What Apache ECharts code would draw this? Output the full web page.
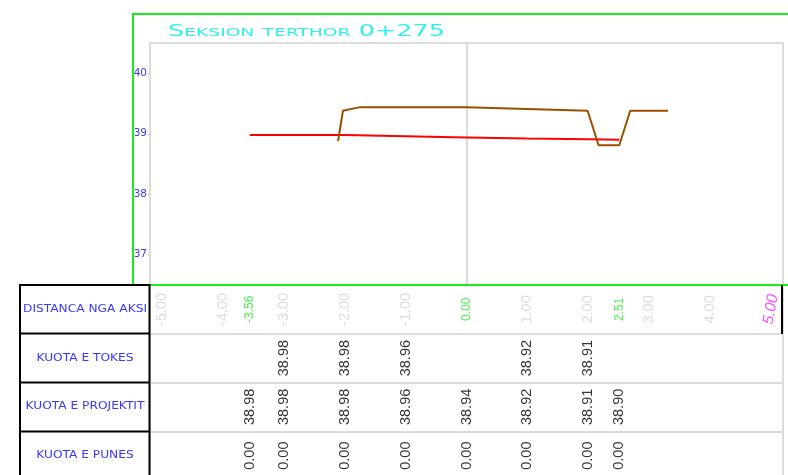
<!DOCTYPE html>
<html>
<head>
<meta charset="utf-8">
<script src="https://cdn.jsdelivr.net/npm/echarts@6/dist/echarts.min.js"></script>
<style>
  html, body { margin: 0; padding: 0; background: #fff; }
  #main { width: 788px; height: 475px; }
</style>
</head>
<body>
<div id="main"></div>
<script>
// profili i tokes (terreni) - lexuar nga vizatimi
var groundDist = [-2.11, -2.03, -1.75, 0.00, 1.99, 2.17, 2.51, 2.69, 3.31];
var groundKuota = [38.88, 39.38, 39.44, 39.44, 39.38, 38.81, 38.81, 39.38, 39.38];

// profili i projektit
var projDist = [-3.56, -3.00, -2.00, -1.00, 0.00, 1.00, 2.00, 2.51];
var projKuota = [38.98, 38.98, 38.98, 38.96, 38.94, 38.92, 38.91, 38.90];

// tabela
var rowNames = ['DISTANCA NGA AKSI', 'KUOTA E TOKES', 'KUOTA E PROJEKTIT', 'KUOTA E PUNES'];
var distTicks = [-5, -4, -3, -2, -1, 1, 2, 3, 4];
var keyDist = [-3.56, 0.00, 2.51];
var endDist = [5.00];
var tokesDist = [-3.00, -2.00, -1.00, 1.00, 2.00];
var tokesKuota = [38.98, 38.98, 38.96, 38.92, 38.91];
var punesKuota = [0.00, 0.00, 0.00, 0.00, 0.00, 0.00, 0.00, 0.00];
var elevTicks = [37, 38, 39, 40];

var titleText = 'Seksion terthor 0+275';

var myChart = echarts.init(document.getElementById('main'));

var GREEN = '#1aeb1a';
var BLUE = '#3838ff';
var TABLE_TOP = 285, ROW_H = 48.75;

function pairs(xs, ys) {
  return xs.map(function (x, i) { return [x, ys[i]]; });
}

// seri me vetem etiketa (te rrotulluara) ne rreshtin e tabeles
function labelSeries(name, dists, texts, row, style) {
  return {
    name: name,
    type: 'scatter',
    xAxisIndex: 1,
    yAxisIndex: 1,
    symbolSize: 1,
    silent: true,
    itemStyle: { color: 'rgba(0,0,0,0)' },
    data: dists.map(function (d) { return [d, row]; }),
    label: Object.assign({
      show: true,
      position: 'inside',
      rotate: 90,
      fontFamily: 'Liberation Sans',
      fontSize: 14.5,
      color: '#000',
      formatter: function (p) { return texts[p.dataIndex]; }
    }, style || {})
  };
}

function fmt(arr) { return arr.map(function (v) { return v.toFixed(2); }); }

// emrat e rreshtave, te zgjeruar horizontalisht si shkronja CAD
var rowLabelGraphics = rowNames.map(function (t, i) {
  return {
    type: 'text', z: 90,
    x: 85, y: TABLE_TOP + ROW_H * (i + 0.5),
    scaleX: 1.22,
    style: {
      text: t, fill: BLUE, align: 'center', verticalAlign: 'middle',
      font: 'normal 10px "DejaVu Sans"'
    }
  };
});

var option = {
  backgroundColor: '#ffffff',
  animation: false,
  grid: [
    { left: 150, top: 43, width: 633, height: 242, show: true, borderColor: '#dcdcdc', borderWidth: 2, outerBoundsMode: 'none' },
    { left: 150, top: TABLE_TOP, width: 633, height: ROW_H * 4, show: true, borderColor: '#dcdcdc', borderWidth: 2, outerBoundsMode: 'none' }
  ],
  xAxis: [
    { gridIndex: 0, type: 'value', min: -5.2, max: 5.2, show: false },
    { gridIndex: 1, type: 'value', min: -5.2, max: 5.2, show: false }
  ],
  yAxis: [
    {
      gridIndex: 0, type: 'value', min: 36.5, max: 40.5,
      axisLine: { show: false, onZero: false },
      splitLine: { show: false },
      axisTick: { show: true, length: 2, customValues: elevTicks, lineStyle: { color: '#cccccc' } },
      axisLabel: {
        customValues: elevTicks,
        margin: 3,
        color: BLUE,
        fontFamily: 'DejaVu Sans',
        fontSize: 10.5
      }
    },
    {
      gridIndex: 1, type: 'category', inverse: true, data: rowNames,
      axisLine: { show: false, onZero: false },
      axisTick: { show: false },
      axisLabel: { show: false },
      splitLine: { show: true, lineStyle: { color: '#dcdcdc', width: 2 } }
    }
  ],
  series: [
    {
      name: 'Toka',
      type: 'line',
      xAxisIndex: 0, yAxisIndex: 0,
      data: pairs(groundDist, groundKuota),
      symbol: 'none',
      lineStyle: { color: '#9a4f00', width: 2 },
      z: 3,
      markLine: {
        silent: true,
        symbol: 'none',
        label: { show: false },
        lineStyle: { color: '#dcdcdc', width: 2, type: 'solid' },
        data: [{ xAxis: 0 }],
        z: 1
      }
    },
    {
      name: 'Projekti',
      type: 'line',
      xAxisIndex: 0, yAxisIndex: 0,
      data: pairs(projDist, projKuota),
      symbol: 'none',
      lineStyle: { color: '#ff0000', width: 2 },
      z: 2
    },
    labelSeries('distanca', distTicks, fmt(distTicks), 0, { color: '#d2d2d2' }),
    labelSeries('pikat', keyDist, fmt(keyDist), 0, { color: '#22ee22', fontSize: 12 }),
    labelSeries('fundi', endDist, fmt(endDist), 0, { color: '#ff22ff', fontStyle: 'italic', fontSize: 15.5, rotate: 80 }),
    labelSeries('tokes', tokesDist, fmt(tokesKuota), 1),
    labelSeries('projektit', projDist, fmt(projKuota), 2),
    labelSeries('punes', projDist, fmt(punesKuota), 3)
  ],
  graphic: [
    // titulli, zgjeruar horizontalisht
    {
      type: 'text', z: 90, x: 168, y: 32, scaleX: 1.7,
      style: {
        text: titleText, fill: '#2ef0f0', align: 'left', verticalAlign: 'middle',
        font: 'small-caps normal 15px "DejaVu Sans"'
      }
    },
    // kuadri jeshil
    { type: 'line', z: 100, shape: { x1: 133, y1: 14, x2: 133, y2: 285 }, style: { stroke: GREEN, lineWidth: 2 } },
    { type: 'line', z: 100, shape: { x1: 132, y1: 14, x2: 788, y2: 14 }, style: { stroke: GREEN, lineWidth: 2 } },
    { type: 'line', z: 100, shape: { x1: 150, y1: 285, x2: 788, y2: 285 }, style: { stroke: GREEN, lineWidth: 2 } },
    // kutia e emrave te rreshtave
    { type: 'rect', z: 100, shape: { x: 20, y: 285, width: 129.5, height: 200 }, style: { fill: null, stroke: '#000', lineWidth: 2 } },
    { type: 'line', z: 100, shape: { x1: 20, y1: 333.5, x2: 150, y2: 333.5 }, style: { stroke: '#000', lineWidth: 2 } },
    { type: 'line', z: 100, shape: { x1: 20, y1: 382.5, x2: 150, y2: 382.5 }, style: { stroke: '#000', lineWidth: 2 } },
    { type: 'line', z: 100, shape: { x1: 20, y1: 431.5, x2: 150, y2: 431.5 }, style: { stroke: '#000', lineWidth: 2 } },
    { type: 'line', z: 100, shape: { x1: 782, y1: 285, x2: 782, y2: 334 }, style: { stroke: '#000', lineWidth: 2 } }
  ].concat(rowLabelGraphics)
};

myChart.setOption(option);
</script>
</body>
</html>
